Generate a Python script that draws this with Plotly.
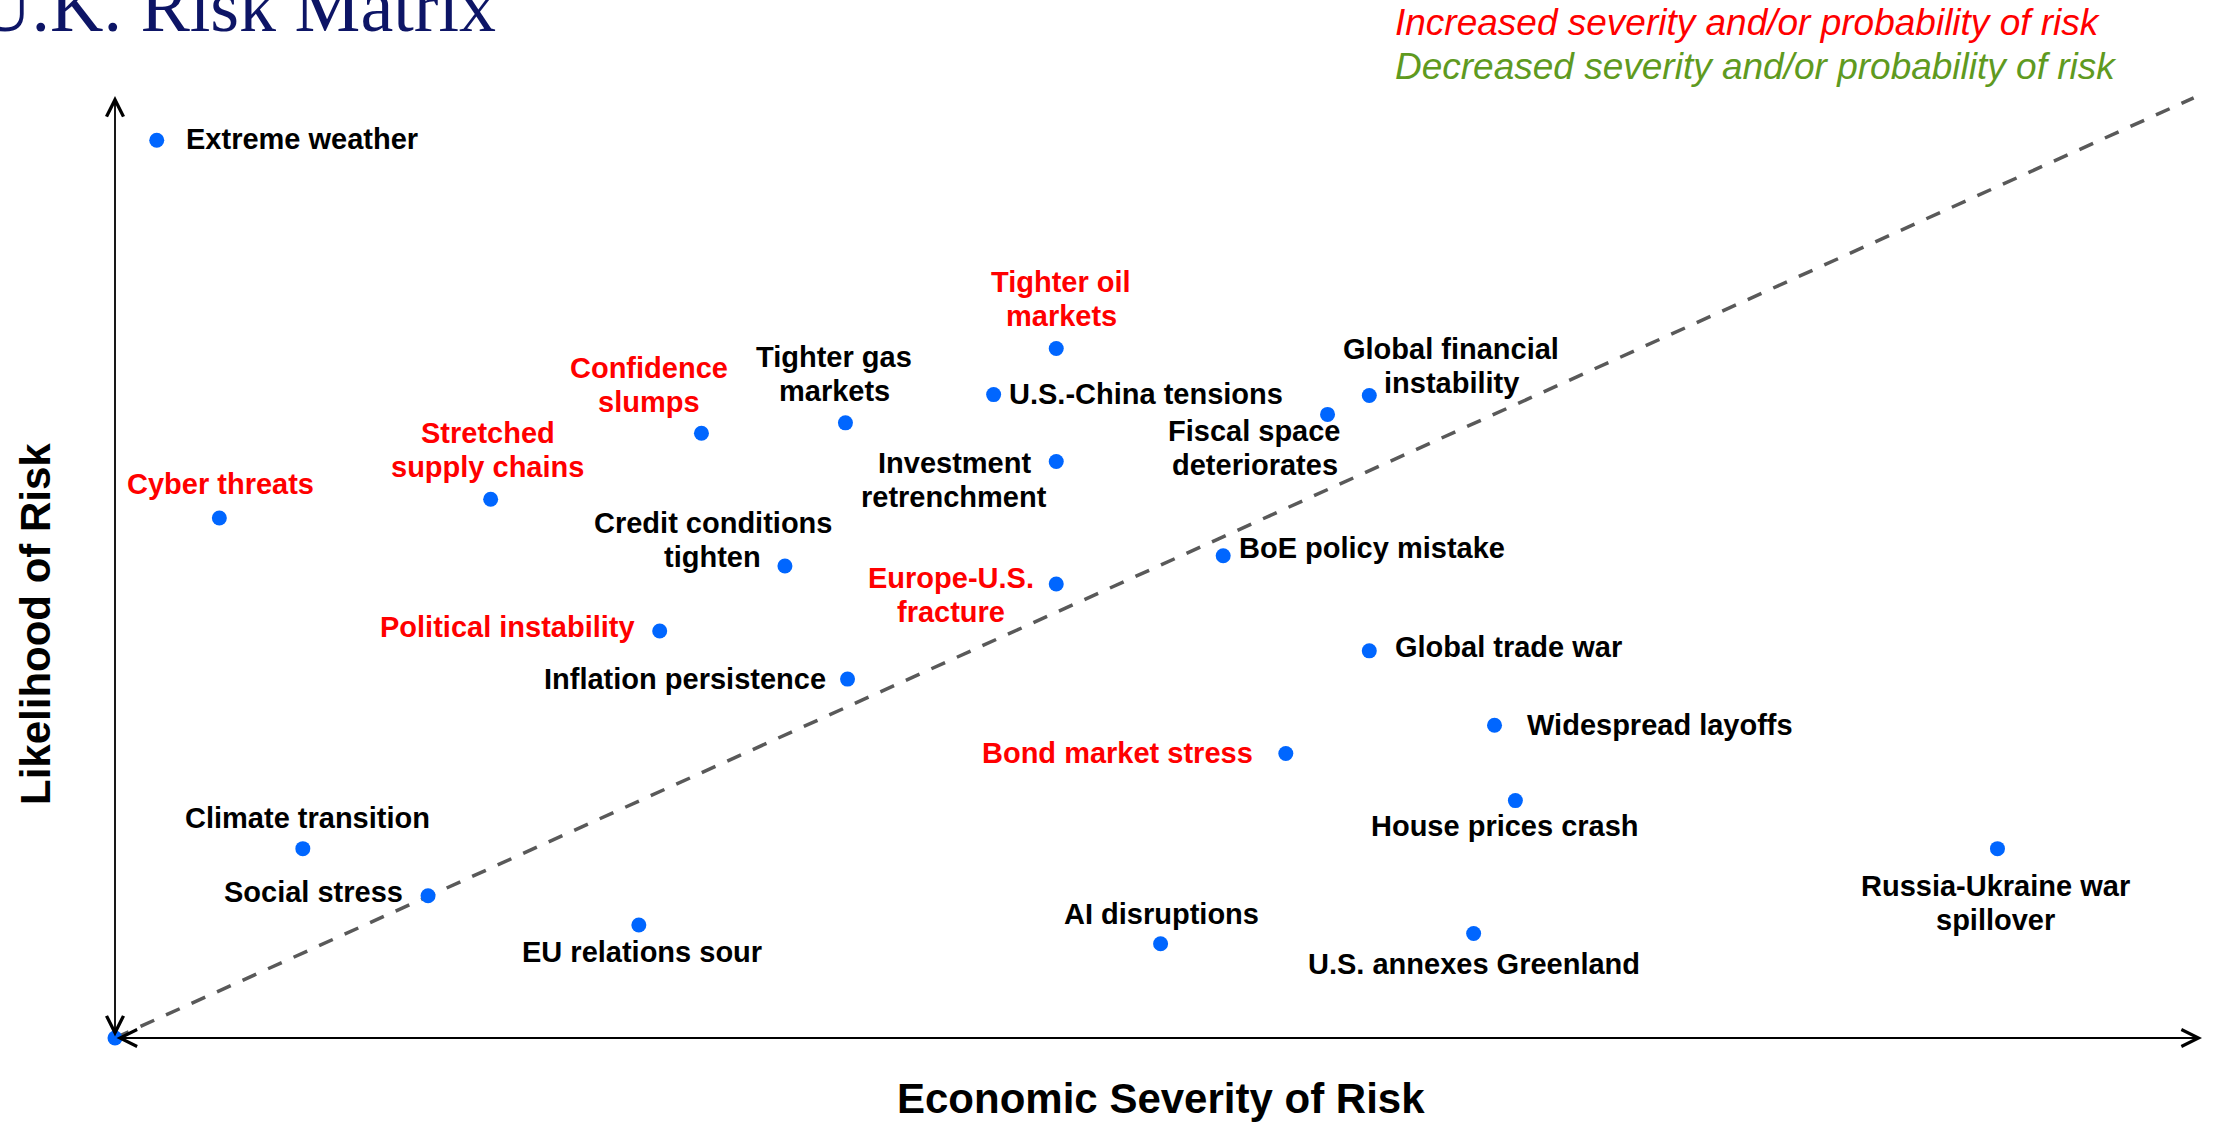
import plotly.graph_objects as go

# ---------------- data ----------------
risk_names = [
    "Extreme weather", "Cyber threats", "Stretched<br>supply chains", "Confidence<br>slumps",
    "Tighter gas<br>markets", "Tighter oil<br>markets", "U.S.-China tensions",
    "Investment<br>retrenchment", "Credit conditions<br>tighten", "Political instability",
    "Inflation persistence", "Europe-U.S.<br>fracture", "Fiscal space<br>deteriorates",
    "Global financial<br>instability", "BoE policy mistake", "Global trade war",
    "Widespread layoffs", "Bond market stress", "House prices crash",
    "Russia-Ukraine war<br>spillover", "Climate transition", "Social stress",
    "EU relations sour", "AI disruptions", "U.S. annexes Greenland",
]
severity = [2.0, 5.0, 18.0, 28.1, 35.0, 45.1, 42.1, 45.1, 32.1, 26.1, 35.1, 45.1, 58.1,
            60.1, 53.1, 60.1, 66.1, 56.1, 67.1, 90.2, 9.0, 15.0, 25.1, 50.1, 65.1]
likelihood = [95.3, 55.2, 57.2, 64.2, 65.3, 73.2, 68.3, 61.2, 50.1, 43.2, 38.1, 48.2, 66.2,
              68.2, 51.2, 41.1, 33.2, 30.2, 25.2, 20.1, 20.1, 15.1, 12.0, 10.0, 11.1]
# "up" = increased severity and/or probability, "same" = unchanged
change = ["same", "up", "up", "up", "same", "up", "same", "same", "same", "up",
          "same", "up", "same", "same", "same", "same", "same", "up", "same", "same",
          "same", "same", "same", "same", "same"]
origin_point = [0.0, 0.0]
diagonal_x = [0.0, 99.6]
diagonal_y = [0.0, 99.8]
axis_max = 100.0

title_text = "U.K. Risk Matrix"
legend_up = "Increased severity and/or probability of risk"
legend_down = "Decreased severity and/or probability of risk"
x_title = "Economic Severity of Risk"
y_title = "Likelihood of Risk"

# ---------------- styling / label placement ----------------
# (xanchor, xshift px, yshift px) of each label's centre relative to its dot
placement = [
    ("left", 27, 1), ("center", 1, 34), ("center", -3, 49), ("center", -52, 48),
    ("center", -11, 49), ("center", 5, 49), ("left", 13, 1), ("center", -102, -18),
    ("center", -72, 26), ("right", -23, 4), ("right", -20, 0), ("center", -105, -11),
    ("center", -73, -34), ("center", 82, 30), ("left", 14, 8), ("left", 24, 4),
    ("left", 30, 0), ("right", -31, 1), ("center", -10, -25), ("center", -2, -54),
    ("center", 5, 31), ("right", -23, 4), ("center", 3, -27), ("center", 1, 30),
    ("center", 0, -31),
]
LINE_GAP = 34
colour_map = {"up": "#ff0000", "same": "#000000"}
FONT = "Liberation Sans, Arial, sans-serif"
DOT = "#0066ff"

W, H = 2218, 1122
ML, MR, MT, MB = 115, 16, 96, 84
PW, PH = W - ML - MR, H - MT - MB


def px_to_paper(px, py):
    return (px - ML) / PW, (H - MB - py) / PH


fig = go.Figure()

# diagonal dashed line
fig.add_trace(go.Scatter(
    x=diagonal_x, y=diagonal_y, mode="lines",
    line=dict(color="#595959", width=3.5, dash="15px,13px"),
    hoverinfo="skip", showlegend=False, cliponaxis=False,
))

# risk points
fig.add_trace(go.Scatter(
    x=severity + [origin_point[0]], y=likelihood + [origin_point[1]], mode="markers",
    marker=dict(color=DOT, size=15, line=dict(width=0)),
    showlegend=False, cliponaxis=False,
))

annotations = []
for name, xv, yv, ch, (xa, xs, ys) in zip(risk_names, severity, likelihood, change, placement):
    lines = name.split("<br>")
    n = len(lines)
    for i, ln in enumerate(lines):
        annotations.append(dict(
            x=xv, y=yv, xref="x", yref="y", text=ln, showarrow=False,
            xanchor=xa, yanchor="middle", xshift=xs,
            yshift=ys + ((n - 1) / 2 - i) * LINE_GAP, align="center",
            font=dict(family=FONT, size=29, color=colour_map[ch], weight="bold"),
        ))

# axes with arrows at both ends
for (tx, ty) in [(axis_max, 0), (0, axis_max)]:
    annotations.append(dict(
        x=tx, y=ty, ax=0, ay=0, xref="x", yref="y", axref="x", ayref="y",
        text="", showarrow=True, arrowside="end+start",
        arrowhead=5, startarrowhead=5, arrowsize=1.85, startarrowsize=1.85,
        arrowwidth=1.8, arrowcolor="#000000", standoff=0, startstandoff=0,
    ))

# title (partly cut off at the left edge as in the reference)
tx, ty = px_to_paper(-24, 6)
annotations.append(dict(
    x=tx, y=ty, xref="paper", yref="paper", text=title_text, showarrow=False,
    xanchor="left", yanchor="middle",
    font=dict(family="Liberation Serif, Times New Roman, serif", size=74, color="#0d1566"),
))

# legend texts
lx, ly1 = px_to_paper(1393, 23)
_, ly2 = px_to_paper(1393, 66.5)
annotations.append(dict(
    x=lx, y=ly1, xref="paper", yref="paper", text="<i>" + legend_up + "</i>",
    showarrow=False, xanchor="left", yanchor="middle",
    font=dict(family=FONT, size=37, color="#ff0000"),
))
annotations.append(dict(
    x=lx, y=ly2, xref="paper", yref="paper", text="<i>" + legend_down + "</i>",
    showarrow=False, xanchor="left", yanchor="middle",
    font=dict(family=FONT, size=37, color="#5f9a1f"),
))

# axis titles
axx, axy = px_to_paper(1161, 1098)
annotations.append(dict(
    x=axx, y=axy, xref="paper", yref="paper", text=x_title, showarrow=False,
    xanchor="center", yanchor="middle",
    font=dict(family=FONT, size=42, color="#000000", weight="bold"),
))
ayx, ayy = px_to_paper(35, 624)
annotations.append(dict(
    x=ayx, y=ayy, xref="paper", yref="paper", text=y_title, showarrow=False,
    xanchor="center", yanchor="middle", textangle=-90,
    font=dict(family=FONT, size=42, color="#000000", weight="bold"),
))

fig.update_layout(
    width=W, height=H,
    margin=dict(l=ML, r=MR, t=MT, b=MB, pad=0),
    paper_bgcolor="white", plot_bgcolor="white",
    xaxis=dict(range=[0, axis_max], visible=False, fixedrange=True),
    yaxis=dict(range=[0, axis_max], visible=False, fixedrange=True),
    annotations=annotations,
    showlegend=False,
)

fig.write_html(
    "out.html",
    config={"displayModeBar": False},
    post_script="document.body.style.margin='0';document.body.style.overflow='hidden';",
)
